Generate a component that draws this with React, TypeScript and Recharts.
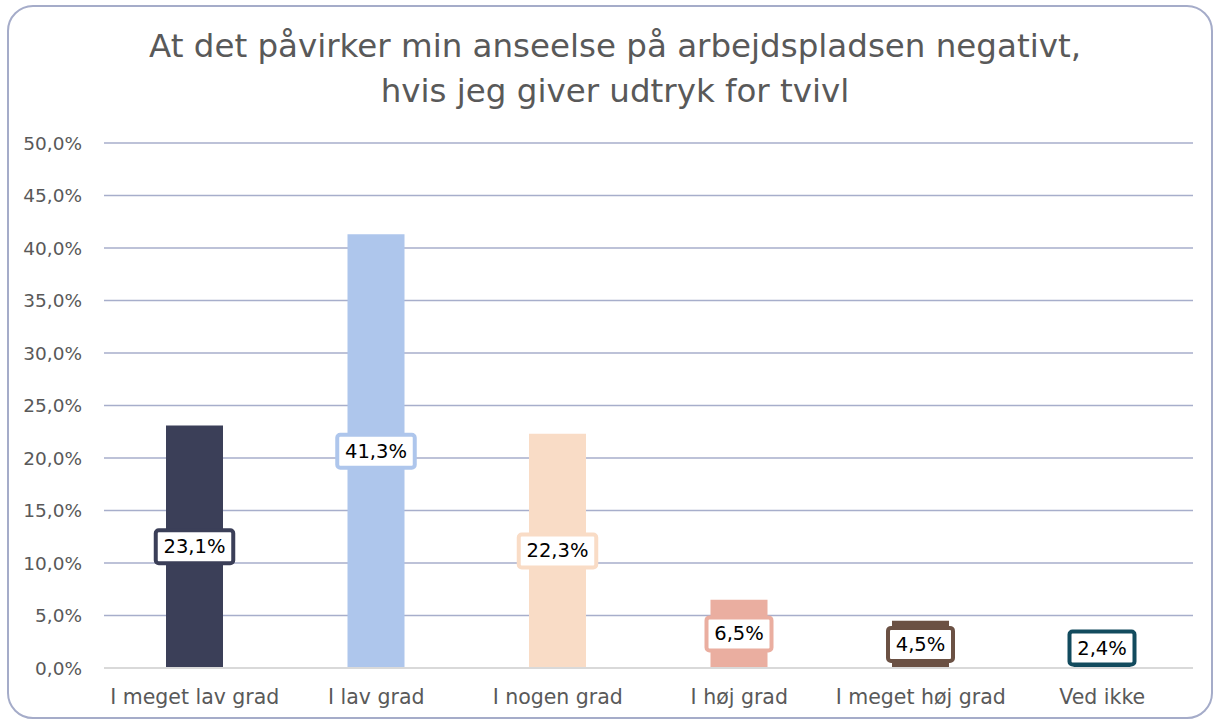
import { BarChart, Bar, XAxis, YAxis, CartesianGrid, Cell, LabelList } from "recharts"

const categories = ["I meget lav grad", "I lav grad", "I nogen grad", "I høj grad", "I meget høj grad", "Ved ikke"]
const values = [23.1, 41.3, 22.3, 6.5, 4.5, 2.4]
const colors = ["#3b3f58", "#aec6ec", "#f9dcc6", "#eaaea0", "#6b5144", "#124b5e"]
const yTicks = [0, 5, 10, 15, 20, 25, 30, 35, 40, 45, 50]

const data = categories.map((name, i) => ({ name, value: values[i] }))

const FONT = "'DejaVu Sans', sans-serif"
const fmt = (v: number) => v.toFixed(1).replace(".", ",") + "%"

// boks med værdi midt på søjlen, holdes over x-aksen
const ValueBox = (props: any) => {
  const { x, y, width, height, value, index } = props
  const text = fmt(value)
  const w = text.length * 12.5 + 15
  const h = 33
  const cx = x + width / 2
  const bottom = y + height
  let cy = y + height / 2
  if (cy > bottom - 20) cy = bottom - 20
  return (
    <g>
      <rect x={cx - w / 2} y={cy - h / 2} width={w} height={h} rx={3} fill="#fff" stroke={colors[index]} strokeWidth={4} />
      <text x={cx} y={cy + 1} textAnchor="middle" dominantBaseline="middle" fontFamily={FONT} fontSize={19.5} fill="#000">
        {text}
      </text>
    </g>
  )
}

export default function App() {
  return (
    <div style={{ position: "fixed", left: 0, top: 0, width: 1217, height: 721, background: "#fff", overflow: "hidden" }}>
      <div style={{
        position: "absolute", left: 7, top: 5, width: 1202, height: 710,
        border: "2px solid #a5acc9", borderRadius: 26
      }} />
      <div style={{
        position: "absolute", left: 0, top: 24, width: 1230, textAlign: "center",
        fontFamily: FONT, fontSize: 32.5, lineHeight: "45px", color: "#595959"
      }}>
        At det påvirker min anseelse på arbejdspladsen negativt,<br />hvis jeg giver udtryk for tvivl
      </div>
      <div style={{ position: "absolute", left: 0, top: 0 }}>
        <BarChart width={1217} height={721} data={data} margin={{ top: 143, right: 24, bottom: 0, left: 0 }}>
          <CartesianGrid vertical={false} stroke="#a7aecb" strokeWidth={1.5} />
          <XAxis
            dataKey="name"
            height={53}
            axisLine={{ stroke: "#d9d9d9", strokeWidth: 2 }}
            tickLine={false}
            tick={{ fill: "#595959", fontSize: 20.5, fontFamily: FONT }}
            tickMargin={15}
          />
          <YAxis
            width={104}
            domain={[0, 50]}
            ticks={yTicks}
            interval={0}
            axisLine={false}
            tickLine={false}
            tickFormatter={fmt}
            tick={{ fill: "#595959", fontSize: 18.5, fontFamily: FONT }}
            tickMargin={16}
          />
          <Bar dataKey="value" barSize={57} isAnimationActive={false}>
            {data.map((_, i) => (
              <Cell key={i} fill={colors[i]} />
            ))}
            <LabelList dataKey="value" content={ValueBox} />
          </Bar>
        </BarChart>
      </div>
    </div>
  )
}
